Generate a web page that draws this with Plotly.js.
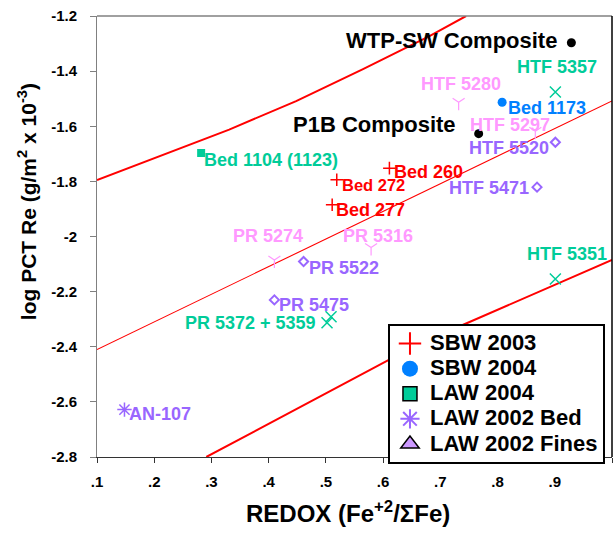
<!DOCTYPE html>
<html><head><meta charset="utf-8">
<script src="https://cdn.plot.ly/plotly-3.0.1.min.js"></script>
<style>html,body{margin:0;padding:0;background:#fff}</style>
</head><body><div id="chart" style="width:616px;height:533px"></div>
<script>
// ---------- data ----------
const xTickVals = [0.1,0.2,0.3,0.4,0.5,0.6,0.7,0.8,0.9,1.0];
const xTickText = ['.1','.2','.3','.4','.5','.6','.7','.8','.9','1'];
const yTickVals = [-2.8,-2.6,-2.4,-2.2,-2.0,-1.8,-1.6,-1.4,-1.2];
const yTickText = ['-2.8','-2.6','-2.4','-2.2','-2','-1.8','-1.6','-1.4','-1.2'];

// SBW 2003
const sbw2003Names = ['Bed 260','Bed 272','Bed 277'];
const sbw2003X = [0.611,0.519,0.511];
const sbw2003Y = [-1.752,-1.794,-1.885];
// SBW 2004
const sbw2004Names = ['Bed 1173'];
const sbw2004X = [0.808];
const sbw2004Y = [-1.513];
// LAW 2004
const law2004Names = ['Bed 1104 (1123)'];
const law2004X = [0.282];
const law2004Y = [-1.697];
// LAW 2002 Bed
const law2002BedNames = ['AN-107'];
const law2002BedX = [0.148];
const law2002BedY = [-2.628];
// Composites
const compNames = ['WTP-SW Composite','P1B Composite'];
const compX = [0.929,0.767];
const compY = [-1.297,-1.627];
// pink Y markers
const pinkNames = ['HTF 5280','HTF 5297','PR 5274','PR 5316'];
const pinkX = [0.732,0.866,0.410,0.579];
const pinkY = [-1.513,-1.618,-2.085,-2.040];
// purple diamonds
const diaNames = ['HTF 5520','HTF 5471','PR 5522','PR 5475'];
const diaX = [0.901,0.869,0.461,0.410];
const diaY = [-1.658,-1.821,-2.091,-2.230];
// green x markers
const gxNames = ['HTF 5357','HTF 5351','PR 5372','PR 5359'];
const gxLabels = ['HTF 5357','HTF 5351','','PR 5372 + 5359'];
const gxX = [0.901,0.901,0.509,0.502];
const gxY = [-1.476,-2.154,-2.291,-2.313];

// red lines
const upperX = [0.100,0.215,0.331,0.448,0.564,0.681,0.745];
const upperY = [-1.795,-1.703,-1.612,-1.509,-1.394,-1.273,-1.200];
const fitX = [0.100,1.000];
const fitY = [-2.410,-1.508];
const lowerX = [0.291,0.610,0.739,1.000];
const lowerY = [-2.800,-2.448,-2.321,-2.085];

const legendNames = ['SBW 2003','SBW 2004','LAW 2004','LAW 2002 Bed','LAW 2002 Fines'];

// ---------- styles ----------
const RED='#FF0000', BLUE='#0080FF', GREEN='#00CC99', PURPLE='#9966FF', PINK='#FF99FF', LAV='#CC99FF';
const FONT='Liberation Sans, Arial, sans-serif';

const labelStyle = {
  'WTP-SW Composite':{a:'right',dx:-12,dy:2,size:22,color:'#000'},
  'P1B Composite':{a:'right',dx:-21,dy:9,size:22,color:'#000'},
  'HTF 5357':{a:'center',dx:2,dy:25,size:18,color:GREEN},
  'HTF 5280':{a:'center',dx:2,dy:18,size:18,color:PINK},
  'Bed 1173':{a:'left',dx:4,dy:-6,size:18,color:BLUE},
  'HTF 5297':{a:'center',dx:-25,dy:6,size:18,color:PINK},
  'HTF 5520':{a:'right',dx:-4,dy:-6,size:18,color:PURPLE},
  'HTF 5471':{a:'right',dx:-6,dy:-1,size:18,color:PURPLE},
  'Bed 260':{a:'left',dx:3,dy:-4,size:18,color:RED},
  'Bed 272':{a:'left',dx:3,dy:-5,size:16.5,color:RED},
  'Bed 277':{a:'left',dx:2,dy:-5,size:18,color:RED},
  'Bed 1104 (1123)':{a:'left',dx:1,dy:-7,size:18,color:GREEN},
  'PR 5274':{a:'center',dx:-6,dy:24,size:18,color:PINK},
  'PR 5316':{a:'center',dx:7,dy:12,size:18,color:PINK},
  'PR 5522':{a:'left',dx:3,dy:-6,size:18,color:PURPLE},
  'PR 5475':{a:'left',dx:3,dy:-5,size:18,color:PURPLE},
  'PR 5372 + 5359':{a:'right',dx:-9,dy:0,size:18,color:GREEN},
  'HTF 5351':{a:'center',dx:12,dy:25,size:18,color:GREEN},
  'AN-107':{a:'left',dx:3,dy:-4,size:18,color:PURPLE}
};

function mkLabels(labels, xs, ys){
  const out=[];
  labels.forEach((t,i)=>{
    if(!t) return;
    const s=labelStyle[t];
    out.push({x:xs[i],y:ys[i],xref:'x',yref:'y',text:'<b>'+t+'</b>',showarrow:false,
      xanchor:s.a,yanchor:'middle',xshift:s.dx,yshift:s.dy,
      font:{family:FONT,size:s.size,color:s.color}});
  });
  return out;
}

const lineT = (x,y,w)=>({x:x,y:y,mode:'lines',type:'scatter',showlegend:false,hoverinfo:'skip',
  line:{color:RED,width:w}});

const legName = n => '<b><span style="font-size:22px">'+n+'</span></b>';

const traces = [
  lineT(upperX,upperY,2), lineT(fitX,fitY,1.1), lineT(lowerX,lowerY,2),
  // data traces
  {x:sbw2003X,y:sbw2003Y,text:sbw2003Names,mode:'markers',type:'scatter',showlegend:false,legendgroup:'a',
   marker:{symbol:'cross-thin-open',size:9,line:{color:RED,width:1.5},color:RED}},
  {x:sbw2004X,y:sbw2004Y,text:sbw2004Names,mode:'markers',type:'scatter',showlegend:false,legendgroup:'b',
   marker:{symbol:'circle',size:9,color:BLUE}},
  {x:law2004X,y:law2004Y,text:law2004Names,mode:'markers',type:'scatter',showlegend:false,legendgroup:'c',
   marker:{symbol:'square',size:8,color:GREEN}},
  {x:law2002BedX,y:law2002BedY,text:law2002BedNames,mode:'markers',type:'scatter',showlegend:false,legendgroup:'d',
   marker:{symbol:'asterisk-open',size:12,line:{color:PURPLE,width:1.5},color:PURPLE}},
  {x:compX,y:compY,text:compNames,mode:'markers',type:'scatter',showlegend:false,
   marker:{symbol:'circle',size:9,color:'#000'}},
  {x:pinkX,y:pinkY,text:pinkNames,mode:'markers',type:'scatter',showlegend:false,
   marker:{symbol:'y-down-open',size:10,line:{color:PINK,width:1.2},color:PINK}},
  {x:diaX,y:diaY,text:diaNames,mode:'markers',type:'scatter',showlegend:false,
   marker:{symbol:'diamond-open',size:7,line:{color:PURPLE,width:2},color:PURPLE}},
  {x:gxX,y:gxY,text:gxNames,mode:'markers',type:'scatter',showlegend:false,
   marker:{symbol:'x-thin-open',size:11,line:{color:GREEN,width:1.5},color:GREEN}},
  // legend entries
  {x:[null],y:[null],name:legName(legendNames[0]),mode:'markers',type:'scatter',legendgroup:'a',
   marker:{symbol:'cross-thin-open',size:16,line:{color:RED,width:2},color:RED}},
  {x:[null],y:[null],name:legName(legendNames[1]),mode:'markers',type:'scatter',legendgroup:'b',
   marker:{symbol:'circle',size:16,color:BLUE}},
  {x:[null],y:[null],name:legName(legendNames[2]),mode:'markers',type:'scatter',legendgroup:'c',
   marker:{symbol:'square',size:14,color:GREEN,line:{color:'#000',width:1.5}}},
  {x:[null],y:[null],name:legName(legendNames[3]),mode:'markers',type:'scatter',legendgroup:'d',
   marker:{symbol:'asterisk-open',size:16,line:{color:PURPLE,width:2},color:PURPLE}},
  {x:[null],y:[null],name:legName(legendNames[4]),mode:'markers',type:'scatter',legendgroup:'e',
   marker:{symbol:'triangle-up',size:16,color:LAV,line:{color:'#000',width:1.5}}}
];

const annotations = [].concat(
  mkLabels(compNames,compX,compY),
  mkLabels(gxLabels,gxX,gxY),
  mkLabels(pinkNames,pinkX,pinkY),
  mkLabels(sbw2004Names,sbw2004X,sbw2004Y),
  mkLabels(diaNames,diaX,diaY),
  mkLabels(sbw2003Names,sbw2003X,sbw2003Y),
  mkLabels(law2004Names,law2004X,law2004Y),
  mkLabels(law2002BedNames,law2002BedX,law2002BedY),
  [
    {xref:'paper',yref:'paper',x:0.487,y:-0.125,text:'<b>REDOX (Fe<sup>+2</sup>/ΣFe)</b>',showarrow:false,
     xanchor:'center',yanchor:'middle',font:{family:FONT,size:24,color:'#000'}},
    {xref:'paper',yref:'paper',x:-0.136,y:0.58,text:'<b>log PCT Re (g/m<sup>2</sup> x 10<sup>-3</sup>)</b>',showarrow:false,
     textangle:-90,xanchor:'center',yanchor:'middle',font:{family:FONT,size:21,color:'#000'}}
  ]
);

const layout = {
  width:616,height:533,
  margin:{l:97,r:4,t:16,b:76,pad:0},
  paper_bgcolor:'#fff',plot_bgcolor:'#fff',
  font:{family:FONT,color:'#000'},
  xaxis:{range:[0.1,1.0],tickvals:xTickVals,ticktext:xTickText,showgrid:false,zeroline:false,
    showline:true,linecolor:'#333',linewidth:1,ticks:'outside',ticklen:5,tickcolor:'#333',
    tickfont:{family:FONT,size:15,color:'#000',weight:'bold'},ticklabelstandoff:6},
  yaxis:{range:[-2.8,-1.2],tickvals:yTickVals,ticktext:yTickText,showgrid:false,zeroline:false,
    showline:true,linecolor:'#808080',linewidth:1,ticks:'outside',ticklen:6,tickcolor:'#808080',
    tickfont:{family:FONT,size:15,color:'#000',weight:'bold'},ticklabelstandoff:10},
  showlegend:true,
  legend:{x:0.565,y:0.3016,xanchor:'left',yanchor:'top',bgcolor:'#fff',bordercolor:'#000',borderwidth:2,
    font:{family:FONT,size:17,color:'#000'},itemsizing:'trace',tracegroupgap:0},
  annotations:annotations,
  shapes:[
    {type:'line',xref:'paper',yref:'paper',x0:0,x1:1,y0:1,y1:1,line:{color:'#808080',width:1.5}},
    {type:'line',xref:'paper',yref:'paper',x0:1,x1:1,y0:0,y1:1,line:{color:'#000',width:1.5}}
  ]
};

Plotly.newPlot('chart',traces,layout,{displayModeBar:false,staticPlot:true});
</script></body></html>
